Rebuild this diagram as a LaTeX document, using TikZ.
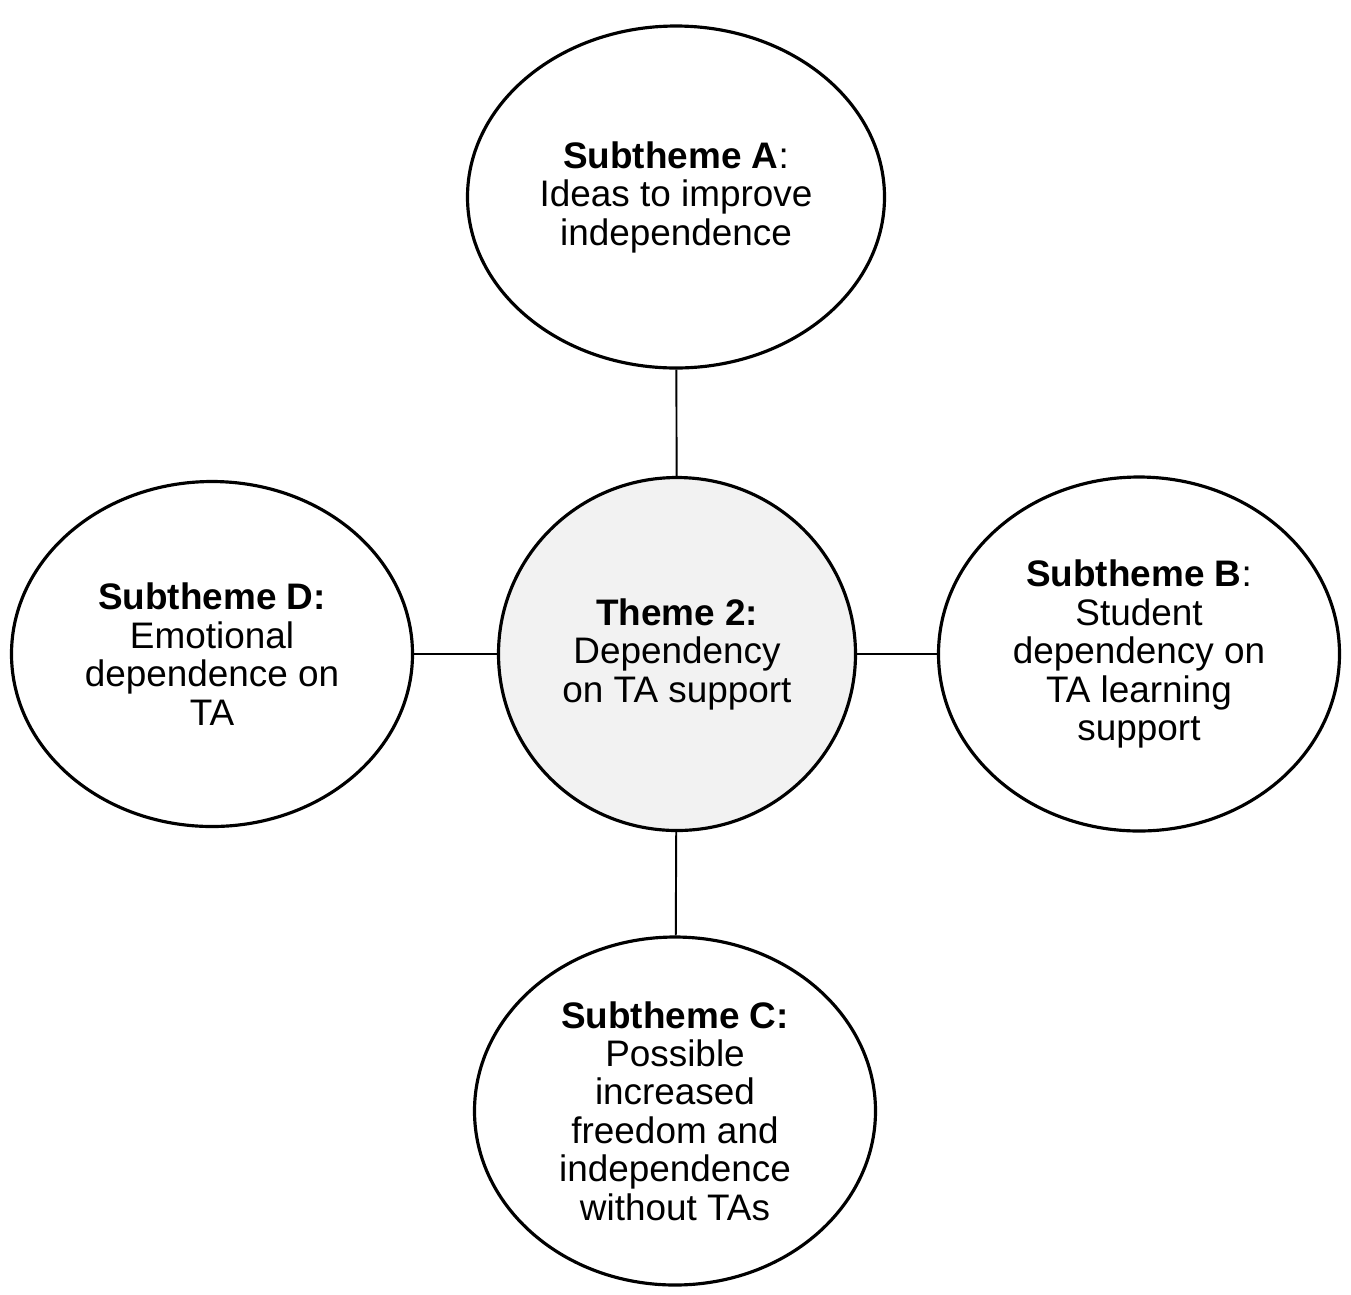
\documentclass[tikz,border=0pt]{standalone}
\usepackage{fontspec}
\setmainfont{Liberation Sans}
\usetikzlibrary{shapes.geometric}
\tikzset{
	theme/.style={ellipse,draw,line width=1.8pt,inner sep=0pt,align=center,font=\fontsize{21}{21.9}\selectfont},
	link/.style={line width=1.1pt}
}
\begin{document}
\begin{tikzpicture}
	\useasboundingbox (0,0) rectangle (27.02,-25.88);
	\node[theme,fill=black!5,minimum width=7.14cm,minimum height=7.06cm] (T) at (13.54,-13.08) {\textbf{Theme 2:}\\Dependency\\on TA support};
	\node[theme,minimum width=8.34cm,minimum height=6.84cm] (A) at (13.52,-3.94) {\textbf{Subtheme A}:\\Ideas to improve\\independence};
	\node[theme,minimum width=8.02cm,minimum height=7.08cm] (B) at (22.78,-13.08) {\textbf{Subtheme B}:\\Student\\dependency on\\TA learning\\support};
	\node[theme,minimum width=8.02cm,minimum height=6.96cm] (C) at (13.5,-22.22) {\textbf{Subtheme C:}\\Possible\\increased\\freedom and\\independence\\without TAs};
	\node[theme,minimum width=8.02cm,minimum height=6.9cm] (D) at (4.24,-13.08) {\textbf{Subtheme D:}\\Emotional\\dependence on\\TA};
	\draw[link](A)--(T);
	\draw[link](T)--(B);
	\draw[link](T)--(C);
	\draw[link](D)--(T);
\end{tikzpicture}
\end{document}
